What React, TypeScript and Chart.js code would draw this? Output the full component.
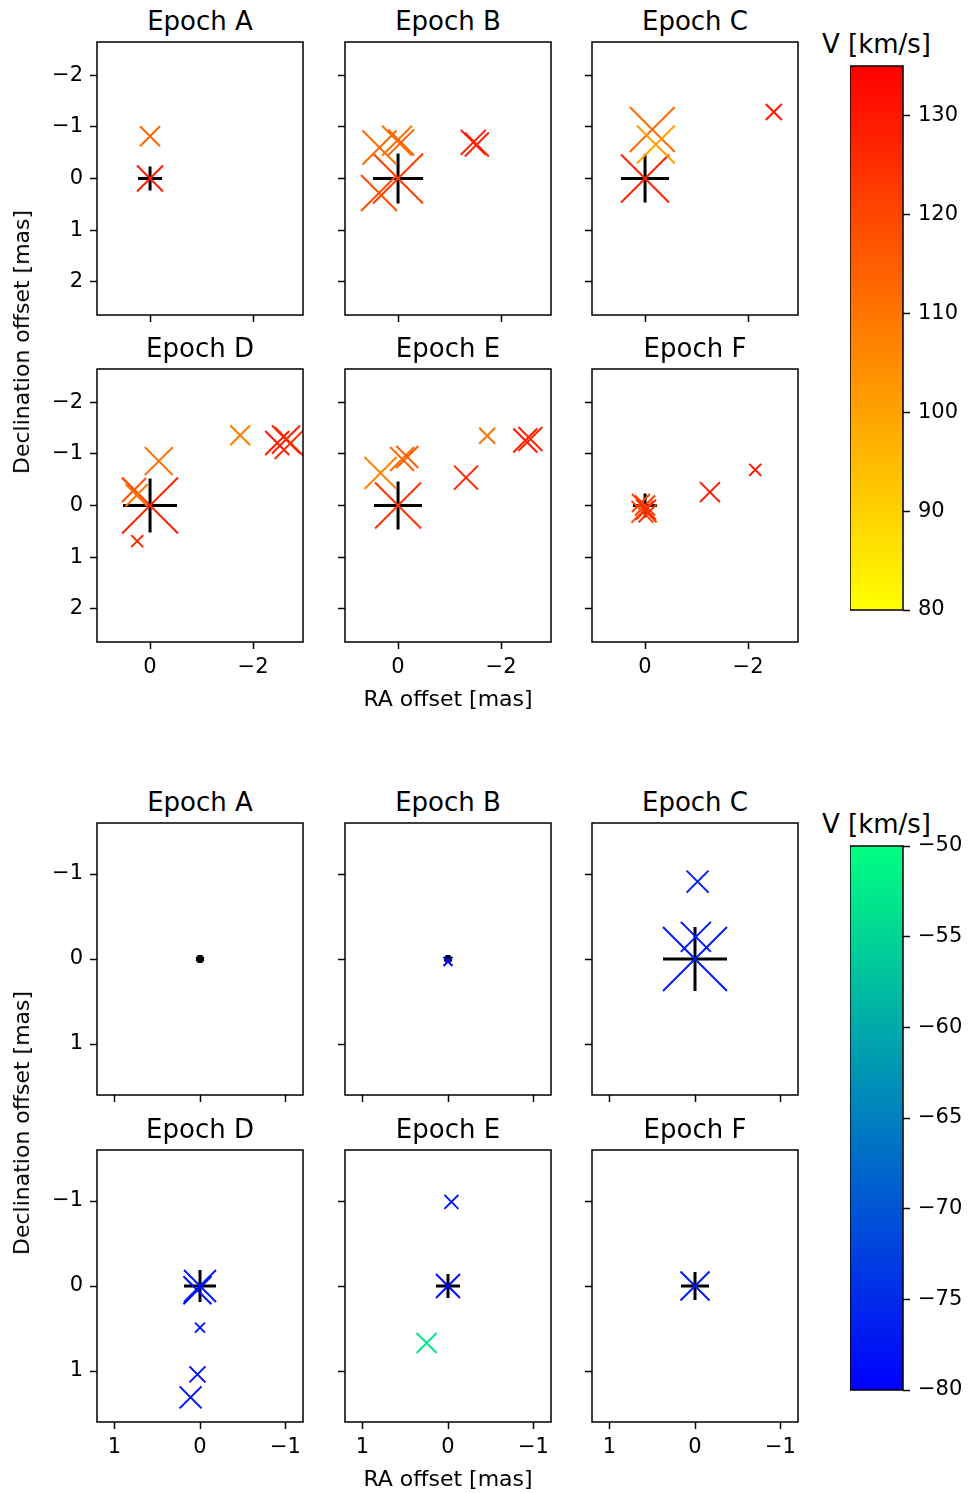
import React, { useEffect, useRef } from 'react';
import { Chart, registerables } from 'chart.js';

Chart.register(...registerables);

const FONT = "'DejaVu Sans', 'Liberation Sans', sans-serif";
Chart.defaults.font.family = FONT;
Chart.defaults.color = '#000';

// ---------------------------------------------------------------------------
// Data: each spot is [RA offset (mas), Dec offset (mas), V (km/s), flux (Jy)]
// ---------------------------------------------------------------------------
type Spot = [number, number, number, number];

const epochs = ['Epoch A', 'Epoch B', 'Epoch C', 'Epoch D', 'Epoch E', 'Epoch F'];

// Red-shifted features
const redSpotsA: Spot[] = [
  [0.0, -0.82, 113, 1.0],
  [0.0, 0.0, 130, 1.3],
];
const redSpotsB: Spot[] = [
  [0.0, 0.0, 122, 2.5],
  [0.37, 0.28, 118, 1.8],
  [0.36, -0.6, 112, 1.7],
  [0.02, -0.73, 110, 1.5],
  [-0.06, -0.7, 115, 1.3],
  [-1.46, -0.7, 130, 1.25],
  [-1.53, -0.66, 127, 1.2],
];
const redSpotsC: Spot[] = [
  [0.0, 0.0, 128, 2.4],
  [-0.14, -0.95, 112, 2.25],
  [-0.21, -0.66, 100, 1.9],
  [-2.5, -1.29, 131, 0.8],
];
const redSpotsD: Spot[] = [
  [0.0, 0.0, 128, 2.8],
  [0.31, -0.3, 117, 1.2],
  [0.26, -0.2, 110, 1.1],
  [-0.17, -0.86, 112, 1.4],
  [0.25, 0.69, 127, 0.6],
  [-1.75, -1.36, 108, 1.0],
  [-2.47, -1.21, 130, 1.2],
  [-2.64, -1.28, 129, 1.4],
  [-2.73, -1.21, 126, 1.6],
];
const redSpotsE: Spot[] = [
  [0.0, 0.0, 124, 2.3],
  [0.34, -0.63, 107, 1.6],
  [-0.08, -0.9, 112, 1.2],
  [-0.18, -0.94, 115, 1.1],
  [-1.32, -0.54, 128, 1.2],
  [-1.73, -1.35, 110, 0.8],
  [-2.47, -1.26, 130, 1.2],
  [-2.57, -1.29, 127, 1.2],
];
const redSpotsF: Spot[] = [
  [0.0, 0.0, 122, 1.0],
  [0.05, 0.12, 118, 1.1],
  [-0.05, 0.15, 124, 0.9],
  [0.08, -0.05, 120, 0.9],
  [-0.02, 0.08, 126, 1.0],
  [-1.26, -0.26, 130, 1.0],
  [-2.14, -0.69, 131, 0.6],
];
// Peak of the reference feature (black cross) per epoch, Jy
const redRefPeak = [1.2, 2.5, 2.4, 2.7, 2.4, 1.2];

// Blue-shifted features
const blueSpotsA: Spot[] = [];
const blueSpotsB: Spot[] = [[0.0, 0.03, -79, 0.45]];
const blueSpotsC: Spot[] = [
  [0.0, 0.0, -77, 3.2],
  [-0.01, -0.26, -77, 1.5],
  [-0.03, -0.91, -76, 1.1],
];
const blueSpotsD: Spot[] = [
  [0.0, 0.0, -77, 1.6],
  [0.03, 0.05, -78, 1.4],
  [0.0, 0.49, -77, 0.5],
  [0.03, 1.04, -78, 0.8],
  [0.11, 1.31, -78, 1.1],
];
const blueSpotsE: Spot[] = [
  [0.0, 0.0, -79, 1.2],
  [-0.04, -0.99, -77, 0.7],
  [0.25, 0.67, -53, 1.0],
];
const blueSpotsF: Spot[] = [[0.0, 0.0, -77, 1.45]];
const blueRefPeak = [0.4, 0.4, 3.2, 1.6, 1.2, 1.4];

// Axis limits and ticks
const redXLim = [-2.97, 1.03];
const redYLim = [-2.645, 2.645];
const redXTicks = [-2, 0];
const redYTicks = [-2, -1, 0, 1, 2];

const blueXLim = [-1.205, 1.205];
const blueYLim = [-1.6, 1.6];
const blueXTicks = [-1, 0, 1];
const blueYTicks = [-1, 0, 1];

// Colour-bar ranges and ticks
const redVRange = [80, 135];
const redVTicks = [80, 90, 100, 110, 120, 130];
const blueVRange = [-80, -50];
const blueVTicks = [-80, -75, -70, -65, -60, -55, -50];

// ---------------------------------------------------------------------------
// Colour maps
// ---------------------------------------------------------------------------
const clamp01 = (t: number) => Math.max(0, Math.min(1, t));

// matplotlib "autumn_r": yellow -> red
const autumnR = (v: number) => {
  const t = clamp01((v - redVRange[0]) / (redVRange[1] - redVRange[0]));
  return `rgb(255,${Math.round(255 * (1 - t))},0)`;
};
// matplotlib "winter": blue -> spring green
const winter = (v: number) => {
  const t = clamp01((v - blueVRange[0]) / (blueVRange[1] - blueVRange[0]));
  return `rgb(0,${Math.round(255 * t)},${Math.round(255 * (1 - 0.5 * t))})`;
};

// ---------------------------------------------------------------------------
// Layout (page pixels)
// ---------------------------------------------------------------------------
const COL_LEFT = [97, 345, 592];
const FRAME_W = 206;
const PX_PER_JY = 10;
const Y_AXIS_W = 70;
const PAD_T = 24;
const PAD_R = 10;
const X_AXIS_H = 40;
const TICK_FONT = 21;

const fmt = (v: number) => (v < 0 ? '\u2212' + Math.abs(v) : String(v));

const framePlugin = {
  id: 'frame',
  afterDatasetsDraw(chart: any) {
    const { ctx, chartArea: a } = chart;
    ctx.save();
    ctx.strokeStyle = '#000';
    ctx.lineWidth = 1.5;
    ctx.strokeRect(a.left, a.top, a.right - a.left, a.bottom - a.top);
    ctx.restore();
  },
};

const gridOpts = {
  drawOnChartArea: false,
  drawTicks: true,
  tickLength: 7,
  tickWidth: 1.5,
  tickColor: '#000',
};

interface PanelProps {
  left: number;
  top: number;
  height: number;
  spots: Spot[];
  refPeak: number;
  cmap: (v: number) => string;
  xLim: number[];
  yLim: number[];
  xTicks: number[];
  yTicks: number[];
  showX: boolean;
  showY: boolean;
}

function Panel(p: PanelProps) {
  const ref = useRef<HTMLCanvasElement>(null);
  const w = Y_AXIS_W + FRAME_W + PAD_R;
  const h = PAD_T + p.height + X_AXIS_H;

  useEffect(() => {
    if (!ref.current) return;
    const chart = new Chart(ref.current, {
      type: 'scatter',
      data: {
        datasets: [
          {
            data: p.spots.map((s) => ({ x: s[0], y: s[1] })),
            pointStyle: 'crossRot',
            pointRadius: p.spots.map((s) => s[3] * PX_PER_JY * Math.SQRT2),
            pointBorderColor: p.spots.map((s) => p.cmap(s[2])),
            pointBackgroundColor: 'rgba(0,0,0,0)',
            pointBorderWidth: 2,
            clip: 0,
          } as any,
          {
            data: [{ x: 0, y: 0 }],
            pointStyle: 'cross',
            pointRadius: p.refPeak * PX_PER_JY,
            pointBorderColor: '#000',
            pointBackgroundColor: 'rgba(0,0,0,0)',
            pointBorderWidth: p.refPeak < 1 ? 5 : 3,
            clip: 0,
          } as any,
        ],
      },
      options: {
        animation: false,
        responsive: false,
        events: [],
        layout: { autoPadding: false, padding: { top: PAD_T, right: PAD_R, left: 0, bottom: 0 } },
        plugins: { legend: { display: false }, tooltip: { enabled: false } },
        scales: {
          x: {
            type: 'linear',
            min: p.xLim[0],
            max: p.xLim[1],
            reverse: true,
            afterBuildTicks: (s: any) => {
              s.ticks = p.xTicks.map((v) => ({ value: v }));
            },
            afterFit: (s: any) => {
              s.height = X_AXIS_H;
            },
            grid: gridOpts,
            border: { display: false },
            ticks: {
              display: p.showX,
              padding: 6,
              maxRotation: 0,
              color: '#000',
              font: { size: TICK_FONT, family: FONT },
              callback: (v: any) => fmt(Number(v)),
            },
          },
          y: {
            type: 'linear',
            position: 'left',
            min: p.yLim[0],
            max: p.yLim[1],
            reverse: true,
            afterBuildTicks: (s: any) => {
              s.ticks = p.yTicks.map((v) => ({ value: v }));
            },
            afterFit: (s: any) => {
              s.width = Y_AXIS_W;
            },
            grid: gridOpts,
            border: { display: false },
            ticks: {
              display: p.showY,
              padding: 7,
              color: '#000',
              font: { size: TICK_FONT, family: FONT },
              callback: (v: any) => fmt(Number(v)),
            },
          },
        },
      } as any,
      plugins: [framePlugin],
    });
    return () => chart.destroy();
  }, []);

  return (
    <canvas
      ref={ref}
      width={w}
      height={h}
      style={{
        position: 'absolute',
        left: p.left - Y_AXIS_W,
        top: p.top - PAD_T,
        width: w,
        height: h,
      }}
    />
  );
}

interface ColorbarProps {
  left: number;
  top: number;
  width: number;
  height: number;
  range: number[];
  ticks: number[];
  cmap: (v: number) => string;
}

function Colorbar(p: ColorbarProps) {
  const ref = useRef<HTMLCanvasElement>(null);
  const w = p.width + Y_AXIS_W;
  const h = p.height + 2 * PAD_T;

  useEffect(() => {
    if (!ref.current) return;
    const gradientPlugin = {
      id: 'cbarGradient',
      beforeDatasetsDraw(chart: any) {
        const { ctx, chartArea: a, scales } = chart;
        const y = scales.y;
        const y0 = y.getPixelForValue(p.range[0]);
        const y1 = y.getPixelForValue(p.range[1]);
        const g = ctx.createLinearGradient(0, y0, 0, y1);
        const n = 10;
        for (let i = 0; i <= n; i++) {
          const v = p.range[0] + ((p.range[1] - p.range[0]) * i) / n;
          g.addColorStop(i / n, p.cmap(v));
        }
        ctx.save();
        ctx.fillStyle = g;
        ctx.fillRect(a.left, a.top, a.right - a.left, a.bottom - a.top);
        ctx.restore();
      },
    };
    const chart = new Chart(ref.current, {
      type: 'scatter',
      data: { datasets: [{ data: [], pointRadius: 0 }] },
      options: {
        animation: false,
        responsive: false,
        events: [],
        layout: { autoPadding: false, padding: { top: PAD_T, bottom: PAD_T, left: 0, right: 0 } },
        plugins: { legend: { display: false }, tooltip: { enabled: false } },
        scales: {
          x: { type: 'linear', display: false, min: 0, max: 1 },
          y: {
            type: 'linear',
            position: 'right',
            min: p.range[0],
            max: p.range[1],
            afterBuildTicks: (s: any) => {
              s.ticks = p.ticks.map((v) => ({ value: v }));
            },
            afterFit: (s: any) => {
              s.width = Y_AXIS_W;
            },
            grid: gridOpts,
            border: { display: false },
            ticks: {
              padding: 8,
              color: '#000',
              font: { size: TICK_FONT, family: FONT },
              callback: (v: any) => fmt(Number(v)),
            },
          },
        },
      } as any,
      plugins: [gradientPlugin, framePlugin],
    });
    return () => chart.destroy();
  }, []);

  return (
    <canvas
      ref={ref}
      width={w}
      height={h}
      style={{ position: 'absolute', left: p.left, top: p.top - PAD_T, width: w, height: h }}
    />
  );
}

const textBase: React.CSSProperties = {
  position: 'absolute',
  fontFamily: FONT,
  color: '#000',
  lineHeight: 1,
  whiteSpace: 'nowrap',
};

function Title({ x, baseline, text, size }: { x: number; baseline: number; text: string; size: number }) {
  return (
    <div style={{ ...textBase, fontSize: size, left: x, top: baseline - 0.846 * size, transform: 'translateX(-50%)' }}>
      {text}
    </div>
  );
}

function YLabel({ x, y, text }: { x: number; y: number; text: string }) {
  return (
    <div
      style={{
        ...textBase,
        fontSize: 22,
        left: x,
        top: y,
        transform: 'translate(-50%, -50%) rotate(-90deg)',
      }}
    >
      {text}
    </div>
  );
}

interface GroupProps {
  spots: Spot[][];
  refPeak: number[];
  cmap: (v: number) => string;
  xLim: number[];
  yLim: number[];
  xTicks: number[];
  yTicks: number[];
  rowTop: number[];
  frameH: number;
  cbarTop: number;
  cbarH: number;
  vRange: number[];
  vTicks: number[];
}

function Group(g: GroupProps) {
  const bottom = g.rowTop[1] + g.frameH;
  return (
    <>
      {g.spots.map((spots, i) => {
        const r = Math.floor(i / 3);
        const c = i % 3;
        return (
          <React.Fragment key={i}>
            <Title x={COL_LEFT[c] + FRAME_W / 2} baseline={g.rowTop[r] - 12} text={epochs[i]} size={26} />
            <Panel
              left={COL_LEFT[c]}
              top={g.rowTop[r]}
              height={g.frameH}
              spots={spots}
              refPeak={g.refPeak[i]}
              cmap={g.cmap}
              xLim={g.xLim}
              yLim={g.yLim}
              xTicks={g.xTicks}
              yTicks={g.yTicks}
              showX={r === 1}
              showY={c === 0}
            />
          </React.Fragment>
        );
      })}
      <Title x={COL_LEFT[1] + FRAME_W / 2} baseline={bottom + 65} text="RA offset [mas]" size={22} />
      <YLabel x={22} y={(g.rowTop[0] + bottom) / 2} text="Declination offset [mas]" />
      <Title x={876.5} baseline={g.cbarTop - 13.5} text="V [km/s]" size={26} />
      <Colorbar
        left={850}
        top={g.cbarTop}
        width={53}
        height={g.cbarH}
        range={g.vRange}
        ticks={g.vTicks}
        cmap={g.cmap}
      />
    </>
  );
}

export default function App() {
  return (
    <div style={{ position: 'absolute', left: 0, top: 0, width: 970, height: 1493, background: '#fff' }}>
      <Group
        spots={[redSpotsA, redSpotsB, redSpotsC, redSpotsD, redSpotsE, redSpotsF]}
        refPeak={redRefPeak}
        cmap={autumnR}
        xLim={redXLim}
        yLim={redYLim}
        xTicks={redXTicks}
        yTicks={redYTicks}
        rowTop={[42, 369]}
        frameH={273}
        cbarTop={66}
        cbarH={544}
        vRange={redVRange}
        vTicks={redVTicks}
      />
      <Group
        spots={[blueSpotsA, blueSpotsB, blueSpotsC, blueSpotsD, blueSpotsE, blueSpotsF]}
        refPeak={blueRefPeak}
        cmap={winter}
        xLim={blueXLim}
        yLim={blueYLim}
        xTicks={blueXTicks}
        yTicks={blueYTicks}
        rowTop={[823, 1150]}
        frameH={272}
        cbarTop={846}
        cbarH={544}
        vRange={blueVRange}
        vTicks={blueVTicks}
      />
    </div>
  );
}
